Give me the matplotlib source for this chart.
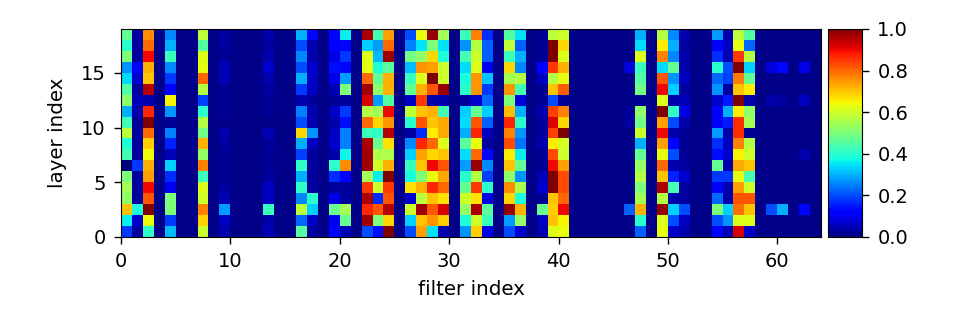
import numpy as np
import matplotlib
matplotlib.use("Agg")
import matplotlib.pyplot as plt

# values per filter column, listed from the top row down to row 0
f00 = [.47, .40, .50, .27, .34, .45, .52, .30, .43, .58, .39, .43, .00, .50, .55, .52, .70, .36, .18]
f01 = [.03, .03, .03, .12, .07, .03, .05, .04, .02, .03, .03, .03, .18, .03, .03, .03, .38, .07, .03]
f02 = [.76, .80, .90, .72, .70, .95, .04, .87, 1.0, .80, .69, .64, .72, .74, .90, .82, 1.0, .64, .41]
f04 = [.26, .30, .42, .26, .18, .11, .65, .27, .02, .25, .16, .05, .33, .17, .10, .50, .50, .18, .31]
f07 = [.58, .45, .62, .63, .80, .57, .19, .40, .57, .49, .72, .53, .77, .42, .62, .60, .77, .69, .60]
f09 = [.03, .03, .02, .05, .05, .02, .02, .02, .01, .04, .03, .02, .02, .02, .03, .05, .28, .06, .04]
f13 = [.04, .03, .04, .07, .04, .03, .02, .02, .01, .05, .03, .02, .02, .03, .06, .06, .42, .04, .05]
f16 = [.30, .20, .26, .20, .30, .18, .04, .25, .20, .68, .30, .19, .41, .30, .41, .26, .58, .23, .46]
f17 = [.13, .04, .04, .07, .06, .06, .02, .04, .04, .27, .06, .03, .03, .03, .03, .40, .33, .06, .03]
f19 = [.13, .12, .09, .14, .09, .05, .02, .06, .04, .06, .07, .04, .41, .17, .03, .09, .48, .10, .13]
f20 = [.36, .13, .18, .13, .28, .50, .03, .18, .14, .25, .25, .37, .76, .12, .03, .03, .55, .47, .05]
f22 = [.96, .33, .62, .63, .80, .97, .92, .57, .80, .42, .96, .97, .97, .55, .85, .96, .87, .97, .20]
f23 = [.43, .28, .31, .39, .47, .52, .28, .55, .68, .41, .48, .56, .60, .36, .60, .17, .82, .50, .14]
f24 = [.74, .80, .97, .46, .72, .72, .45, .90, .75, .95, .67, .56, .72, 1.0, .85, .82, .95, .68, 1.0]
f26 = [.20, .25, .49, .31, .42, .47, .06, .58, .40, .03, .26, .33, .42, .38, .67, .07, .60, .33, .20]
f27 = [.63, .35, .53, .75, .62, .72, .85, .70, .82, .17, .87, .74, .70, .50, .72, .58, .97, .70, .74]
f28 = [.98, .50, .68, .74, 1.0, .82, .04, .72, .70, .66, .80, .68, .90, .63, .87, .70, .82, .75, .35]
f29 = [.55, .35, .39, .60, .60, .98, .04, .43, .73, .73, .62, .70, .82, .73, .80, .67, .92, .69, .04]
f31 = [.42, .27, .43, .34, .38, .40, .03, .33, .34, .30, .46, .34, .28, .40, .47, .60, .53, .39, .27]
f32 = [.77, .57, .60, .62, .75, .75, .07, .47, .82, .87, .63, .80, .98, .57, .85, .67, .96, .60, .69]
f33 = [.17, .22, .22, .10, .32, .18, .23, .33, .22, .06, .03, .13, .26, .19, .40, .09, .46, .42, .10]
f35 = [.45, .58, .42, .68, .55, .75, .50, .71, .87, .77, .83, .66, .70, .52, .76, .68, .98, .28, .20]
f36 = [.35, .22, .30, .26, .57, .43, .08, .30, .40, .27, .24, .36, .47, .27, .56, .39, .72, .53, .07]
f38 = [.02, .02, .02, .12, .06, .02, .02, .04, .03, .03, .04, .02, .02, .05, .07, .02, .48, .06, .05]
f39 = [.58, 1.0, 1.0, .85, .57, .70, .20, .84, .92, .84, .66, .83, .90, 1.0, 1.0, .70, .69, .70, .62]
f40 = [.60, .68, .62, .72, .63, .81, .02, .77, .68, 1.0, .61, .60, .74, .83, .83, .80, .90, .65, .64]
f46 = [.01, .01, .01, .08, .01, .01, .01, .02, .03, .01, .01, .01, .01, .01, .01, .01, .22, .01, .01]
f47 = [.30, .34, .62, .42, .45, .49, .02, .52, .49, .60, .30, .47, .53, .57, .50, .55, .72, .40, .22]
f49 = [.57, .66, .77, .34, .82, .90, .62, 1.0, .74, .90, .74, .63, .80, .70, .96, .57, .98, .62, .63]
f50 = [.26, .30, .26, .47, .27, .33, .04, .41, .20, .04, .13, .20, .04, .16, .43, .04, .33, .20, .07]
f51 = [.04, .03, .04, .04, .06, .03, .05, .09, .04, .02, .02, .02, .03, .07, .03, .03, .20, .06, .04]
f54 = [.28, .12, .17, .40, .23, .27, .07, .12, .12, .28, .17, .14, .47, .18, .12, .23, .50, .20, .12]
f55 = [.04, .06, .05, .20, .19, .03, .15, .30, .15, .04, .06, .07, .04, .18, .04, .04, .33, .27, .05]
f56 = [.58, .63, .85, 1.0, .78, .70, 1.0, .66, .86, .86, .77, .65, .73, .63, .74, .82, .79, .62, .92]
f57 = [.45, .23, .57, .33, .47, .66, .04, .52, .55, .02, .57, .60, .70, .43, .60, .82, .70, .62, .07]
f59 = [.01, .01, .01, .08, .01, .01, .04, .01, .01, .01, .01, .01, .01, .01, .01, .01, .20, .01, .01]
f60 = [.01, .01, .01, .13, .01, .01, .03, .01, .01, .01, .01, .01, .01, .01, .01, .01, .30, .01, .01]
f62 = [.01, .01, .01, .09, .01, .01, .06, .01, .01, .01, .01, .04, .01, .01, .01, .01, .13, .01, .01]

columns = {0: f00, 1: f01, 2: f02, 4: f04, 7: f07, 9: f09, 13: f13, 16: f16, 17: f17,
           19: f19, 20: f20, 22: f22, 23: f23, 24: f24, 26: f26, 27: f27, 28: f28,
           29: f29, 31: f31, 32: f32, 33: f33, 35: f35, 36: f36, 38: f38, 39: f39,
           40: f40, 46: f46, 47: f47, 49: f49, 50: f50, 51: f51, 54: f54, 55: f55,
           56: f56, 57: f57, 59: f59, 60: f60, 62: f62}
background = 0.01
n_layers = 19
n_filters = 64

x_ticks = [0, 10, 20, 30, 40, 50, 60]
y_ticks = [0, 5, 10, 15]
cbar_ticks = [0.0, 0.2, 0.4, 0.6, 0.8, 1.0]

heat = np.full((n_layers, n_filters), background)
for idx, vals in columns.items():
    heat[:, idx] = vals[::-1]

fig = plt.figure(figsize=(9.56, 3.16), dpi=100)
ax = fig.add_axes([121/956, 1 - 237/316, (821 - 121)/956, (237 - 29)/316])
im = ax.imshow(heat, cmap="jet", vmin=0, vmax=1, origin="lower", aspect="auto",
               extent=(0, n_filters, 0, n_layers), interpolation="nearest")
ax.set_xticks(x_ticks)
ax.set_yticks(y_ticks)
ax.set_xlabel("filter index", fontsize=14.3, labelpad=6)
ax.set_ylabel("layer index", fontsize=14.3, labelpad=10)
ax.tick_params(labelsize=14, length=5, width=1, pad=6)

cax = fig.add_axes([828/956, 1 - 237/316, (862 - 828)/956, (237 - 29)/316])
cbar = fig.colorbar(im, cax=cax)
cbar.set_ticks(cbar_ticks)
cbar.ax.tick_params(labelsize=14, length=5, width=1, pad=6)

fig.savefig("out.png", dpi=100)
